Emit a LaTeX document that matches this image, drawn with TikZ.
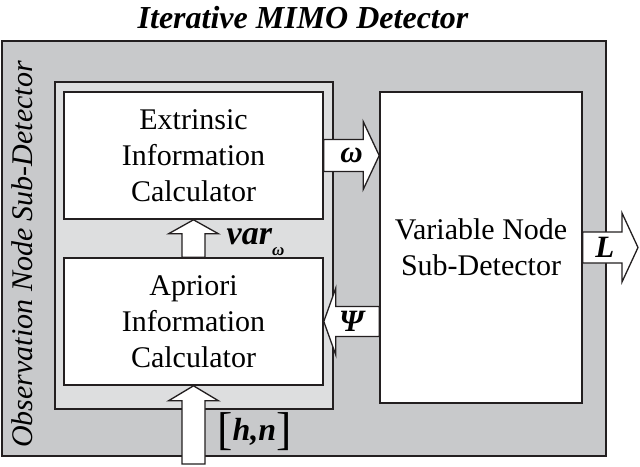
\documentclass[tikz,border=0pt]{standalone}
\usepackage{fontspec}
\setmainfont{Liberation Serif}
\usetikzlibrary{calc}
\definecolor{detgray}{RGB}{200,201,203}
\definecolor{obsgray}{RGB}{221,222,223}
\definecolor{edgeblack}{RGB}{35,31,32}

% block arrow: from, to, shaft half width, head half width, head length
\newcommand{\fatarrow}[5]{%
  \path let \p1=(#1), \p2=(#2) in
    \pgfextra{%
      \pgfmathsetmacro\fatang{atan2(\y2-\y1,\x2-\x1)}%
      \pgfmathsetmacro\fatlen{veclen(\x2-\x1,\y2-\y1)}%
      \xdef\fatang{\fatang}\xdef\fatlen{\fatlen}};
  \draw[fat, shift={(#1)}, rotate=\fatang]
    (0pt,#3) -- ({\fatlen pt-#5},#3) -- ({\fatlen pt-#5},#4)
    -- (\fatlen pt,0pt) -- ({\fatlen pt-#5},-#4) -- ({\fatlen pt-#5},-#3)
    -- (0pt,-#3) -- cycle;
}

\begin{document}
\begin{tikzpicture}
		[x=1pt, y=-1pt,
		 panel/.style={draw=edgeblack, line width=1.6pt, inner sep=0pt},
		 block/.style={panel, fill=white, align=center, font=\fontsize{30}{36}\selectfont},
		 fat/.style={draw=edgeblack, fill=white, line width=1.3pt, line join=miter},
		 sym/.style={font=\fontsize{31}{31}\selectfont\bfseries\itshape}]
		\useasboundingbox (0,0) rectangle (640,466);

		\node[font=\fontsize{32}{32}\selectfont\bfseries\itshape, anchor=base] (title) at (303,28) {Iterative MIMO Detector};
		\node[panel, fill=detgray, minimum width=604pt, minimum height=415pt] (det) at (304,248.5) {};
		\node[font=\fontsize{30}{30}\selectfont\itshape, rotate=90, anchor=base] (obslabel) at (32,254.5) {Observation Node Sub-Detector};
		\node[panel, fill=obsgray, minimum width=278pt, minimum height=327pt] (obs) at (194,245.5) {};
		\node[block, minimum width=259pt, minimum height=127pt] (ext) at (193.5,155.5) {Extrinsic\\Information\\Calculator};
		\node[block, minimum width=259pt, minimum height=127pt] (apri) at (193.5,321.5) {Apriori\\Information\\Calculator};
		\node[block, minimum width=202pt, minimum height=311pt] (var) at (481,247.5) {Variable Node\\Sub-Detector};
		\coordinate (hnin) at (193.5,464);
		\coordinate (Lout) at (638,247.5);

		\fatarrow{ext.east}{ext.east -| var.west}{16pt}{34pt}{16pt}
		\fatarrow{var.west |- apri.east}{apri.east}{15pt}{33.5pt}{12pt}
		\fatarrow{apri.north}{ext.south}{11.5pt}{25pt}{14pt}
		\fatarrow{hnin}{apri.south}{11.5pt}{25pt}{15pt}
		\fatarrow{var.east}{Lout}{15.5pt}{34.5pt}{16pt}

		\node[sym] (omega) at ($(ext.east)!0.5!(ext.east -| var.west)$) {ω};
		\node[sym] (psi) at ($(var.west |- apri.east)!0.5!(apri.east)$) {Ψ};
		\node[sym] (llr) at ($(var.east)!0.4!(Lout)$) {L};
		\node[sym, font=\fontsize{34}{34}\selectfont\bfseries\itshape, anchor=base west, inner sep=0pt] (varw) at ([xshift=33pt, yshift=13pt]apri.north) {var{\fontsize{17}{17}\selectfont\raisebox{-11pt}{ω}}};
		\node[anchor=base west, inner sep=0pt] (hn) at (217,444.5) {{\fontsize{46}{46}\selectfont[}{\fontsize{32}{32}\selectfont\bfseries\itshape\raisebox{4pt}{h,n}}{\fontsize{46}{46}\selectfont]}};
	\end{tikzpicture}
\end{document}
